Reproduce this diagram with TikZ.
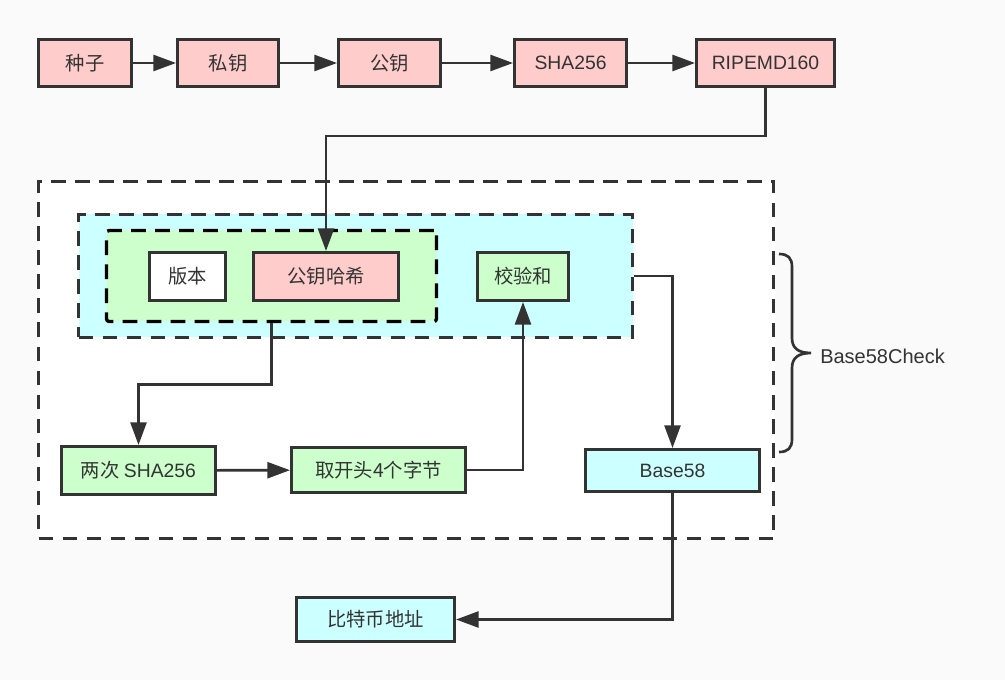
\documentclass[tikz,border=0pt]{standalone}
\usepackage{fontspec}
\setmainfont{Noto Sans CJK SC}
\newfontfamily\latin{Liberation Sans}
\usepackage{xcolor}
\usetikzlibrary{arrows.meta}

\definecolor{bggray}{HTML}{FAFAFA}
\definecolor{linegray}{HTML}{333333}
\definecolor{pinkfill}{HTML}{FFCCCC}
\definecolor{greenfill}{HTML}{CCFFCC}
\definecolor{cyanfill}{HTML}{CCFFFF}

\begin{document}
\begin{tikzpicture}[x=0.75pt,y=0.75pt,yscale=-1,xscale=1,
  box/.style={draw=linegray, line width=2.25pt, inner sep=0pt, text=linegray,
    font=\fontsize{14.5pt}{17pt}\selectfont},
  pinkbox/.style={box, fill=pinkfill},
  greenbox/.style={box, fill=greenfill},
  cyanbox/.style={box, fill=cyanfill},
  group/.style={draw=linegray, line width=2.25pt, dash pattern=on 11pt off 7pt, inner sep=0pt},
  arr/.style={draw=linegray, line width=2pt, -{Triangle[length=17pt,width=12pt]}}]
%set diagram size 1005 x 680
\fill[bggray] (0,0) rectangle (1005,680);
\useasboundingbox (0,0) rectangle (1005,680);

%Shape: Rectangle (outer dashed frame)
\node[group, fill=white, minimum width=551.25pt, minimum height=267.75pt] (frame) at (406,360) {};
%Shape: Rectangle (payload)
\node[group, fill=cyanfill, minimum width=415.5pt, minimum height=92.25pt] (payload) at (355.5,276) {};
%Shape: Rectangle (version + hash)
\node[group, draw=black, line width=2.5pt, rounded corners=2pt, fill=greenfill, minimum width=247.5pt, minimum height=68.25pt] (prefix) at (271.5,276) {};

% Text Node
\node[pinkbox, minimum width=69.75pt, minimum height=35.25pt] (seed) at (85,63) {种子};
% Text Node
\node[pinkbox, minimum width=75.75pt, minimum height=35.25pt] (priv) at (228,63) {私钥};
% Text Node
\node[pinkbox, minimum width=76.5pt, minimum height=35.25pt] (pub) at (389.5,63) {公钥};
% Text Node
\node[pinkbox, minimum width=84pt, minimum height=35.25pt] (sha) at (570.5,63) {\latin SHA256};
% Text Node
\node[pinkbox, minimum width=103.5pt, minimum height=35.25pt] (ripemd) at (765.5,63) {\latin RIPEMD160};
% Text Node
\node[box, fill=white, minimum width=57pt, minimum height=36pt] (ver) at (187.5,276.5) {版本};
% Text Node
\node[pinkbox, minimum width=108.75pt, minimum height=36pt] (pkh) at (326,276.5) {公钥哈希};
% Text Node
\node[greenbox, minimum width=68.25pt, minimum height=36pt] (chk) at (523,276.5) {校验和};
% Text Node
\node[greenbox, minimum width=115.5pt, minimum height=36pt] (dsha) at (138.5,470.5) {两次 {\latin SHA256}};
% Text Node
\node[greenbox, minimum width=130.5pt, minimum height=33.75pt] (first4) at (378.5,470) {取开头4个字节};
% Text Node
\node[cyanbox, minimum width=130.5pt, minimum height=31.5pt] (bfe) at (672.5,470.5) {\latin Base58};
% Text Node
\node[cyanbox, minimum width=118.5pt, minimum height=33pt] (addr) at (375.5,619.5) {比特币地址};
% Text Node
\node[anchor=west, inner sep=0pt, text=linegray, font=\fontsize{15pt}{17pt}\selectfont\latin] (b58c) at (820,356) {Base58Check};

%Straight Lines
\draw[arr] (seed) -- (priv);
\draw[arr] (priv) -- (pub);
\draw[arr] (pub) -- (sha);
\draw[arr] (sha) -- (ripemd);
\draw[arr] (ripemd.south) -- ++(0,48) -| (pkh.north);
\draw[arr] (payload.east) -| (bfe.north);
\draw[arr] (prefix.south) -- ++(0,61) -| (dsha.north);
\draw[arr] (dsha) -- (first4);
\draw[arr] (first4.east) -| (chk.south);
\draw[arr] (bfe.south) |- (addr.east);

%Shape: Brace
\draw[linegray, line width=2pt] (779,254) .. controls (788,254) and (792,258) .. (792,267) -- (792,338)
  .. controls (792,348) and (798,353) .. (811,353)
  .. controls (798,353) and (792,358) .. (792,368) -- (792,439)
  .. controls (792,448) and (788,452) .. (779,452);

\end{tikzpicture}
\end{document}
